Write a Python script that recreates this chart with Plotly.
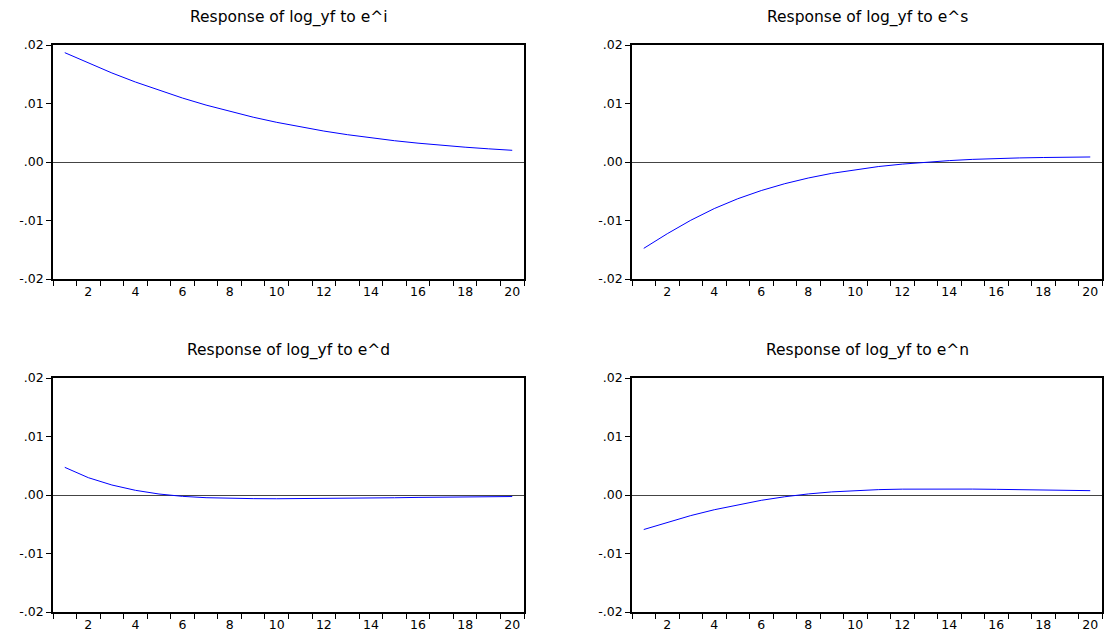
import plotly.graph_objects as go

periods = list(range(1, 21))

resp_ei = [0.01869, 0.01689, 0.01522, 0.01367, 0.01224, 0.01093, 0.00973, 0.00864,
           0.00766, 0.00678, 0.00599, 0.00529, 0.00467, 0.00412, 0.00364, 0.00322,
           0.00285, 0.00253, 0.00225, 0.00200]
resp_es = [-0.01476, -0.01226, -0.00996, -0.00796, -0.00628, -0.00488, -0.00371, -0.00274,
           -0.00194, -0.00129, -0.00077, -0.00036, -0.00004, 0.00024, 0.00045, 0.00060,
           0.00070, 0.00077, 0.00082, 0.00086]
resp_ed = [0.00473, 0.00296, 0.00171, 0.00080, 0.00017, -0.00023, -0.00046, -0.00057,
           -0.00062, -0.00064, -0.00063, -0.00061, -0.00057, -0.00052, -0.00047, -0.00041,
           -0.00036, -0.00032, -0.00029, -0.00026]
resp_en = [-0.00590, -0.00465, -0.00352, -0.00252, -0.00165, -0.00091, -0.00030, 0.00018,
           0.00053, 0.00077, 0.00092, 0.00100, 0.00103, 0.00103, 0.00101, 0.00097,
           0.00092, 0.00086, 0.00080, 0.00074]

titles = ["Response of log_yf to e^i", "Response of log_yf to e^s",
          "Response of log_yf to e^d", "Response of log_yf to e^n"]
series = [resp_ei, resp_es, resp_ed, resp_en]

y_tickvals = [-0.02, -0.01, 0.0, 0.01, 0.02]
y_ticktext = ["-.02", "-.01", ".00", ".01", ".02"]
x_tickvals = [2, 4, 6, 8, 10, 12, 14, 16, 18, 20]

W, H = 1104, 635
boxes = [(53, 524, 45, 279), (632, 1102, 45, 279),
         (53, 524, 378, 612), (632, 1102, 378, 612)]

FONT = "DejaVu Sans, Arial, sans-serif"

fig = go.Figure()
layout = dict(width=W, height=H, autosize=False, margin=dict(l=0, r=0, t=0, b=0, pad=0),
              paper_bgcolor="white", plot_bgcolor="white", showlegend=False,
              font=dict(family=FONT, size=12, color="black"))
annotations = []
for k, (vals, title, (x0, x1, y0, y1)) in enumerate(zip(series, titles, boxes)):
    sfx = "" if k == 0 else str(k + 1)
    fig.add_trace(go.Scatter(x=periods, y=vals, mode="lines",
                             line=dict(color="#0000FF", width=1),
                             xaxis="x" + sfx, yaxis="y" + sfx, hoverinfo="skip"))
    layout["xaxis" + sfx] = dict(
        domain=[x0 / W, x1 / W], range=[0.5, 20.5], anchor="y" + sfx, automargin=False,
        showline=True, linecolor="black", linewidth=1.5, mirror=True,
        showgrid=False, zeroline=False,
        tickmode="array", tickvals=x_tickvals, ticks="",
        minor=dict(ticks="outside", ticklen=5, tickcolor="black", tickwidth=1,
                   tick0=0.5, dtick=1, showgrid=False),
        tickfont=dict(family=FONT, size=12.5, color="black"))
    layout["yaxis" + sfx] = dict(
        domain=[1 - y1 / H, 1 - y0 / H], range=[-0.02, 0.02], anchor="x" + sfx,
        automargin=False,
        showline=True, linecolor="black", linewidth=1.5, mirror=True,
        showgrid=False, zeroline=True, zerolinecolor="#444444", zerolinewidth=1,
        tickmode="array", tickvals=y_tickvals, ticktext=y_ticktext,
        ticks="outside", ticklen=5, tickcolor="black",
        tickfont=dict(family=FONT, size=12.5, color="black"))
    annotations.append(dict(text=title, x=(x0 + x1) / 2 / W, y=1 - (y0 - 28) / H,
                            xref="paper", yref="paper", xanchor="center", yanchor="middle",
                            showarrow=False, font=dict(family=FONT, size=15.5, color="black")))
layout["annotations"] = annotations
fig.update_layout(**layout)
fig.write_html("out.html")
